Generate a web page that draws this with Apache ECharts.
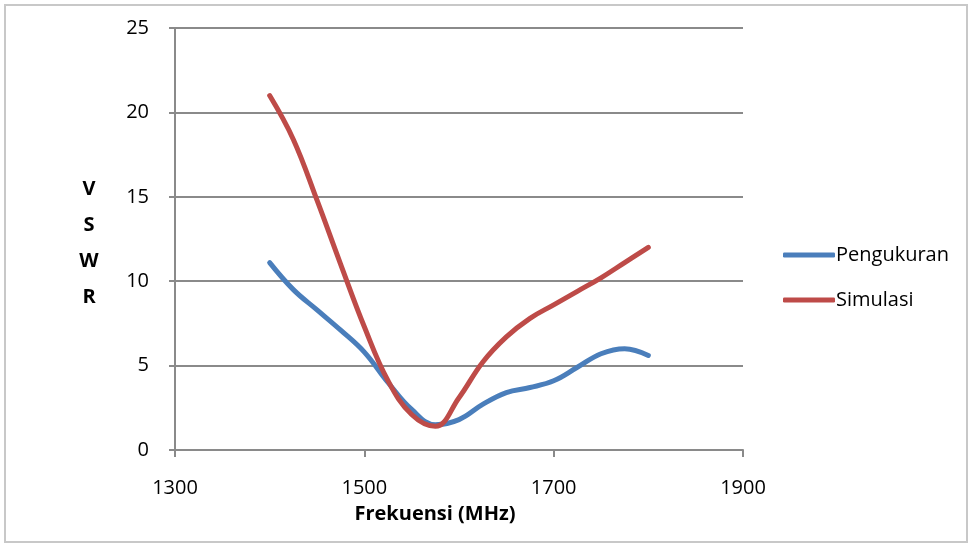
<!DOCTYPE html>
<html>
<head>
<meta charset="utf-8">
<script src="https://cdn.jsdelivr.net/npm/echarts@6/dist/echarts.min.js"></script>
<style>
  html, body { margin: 0; padding: 0; background: #fff; }
  #chart { width: 972px; height: 547px; }
</style>
</head>
<body>
<div id="chart"></div>
<script>
// Frequency (MHz) and VSWR values
const freq = [1400, 1425, 1450, 1475, 1500, 1525, 1550, 1575, 1600, 1625, 1650, 1675, 1700, 1725, 1750, 1775, 1800]
const pengukuran = [11.1, 9.5, 8.3, 7.1, 5.8, 4.0, 2.4, 1.5, 1.8, 2.7, 3.4, 3.7, 4.1, 4.9, 5.7, 6.0, 5.6]
const simulasi = [21.0, 18.4, 14.8, 11.0, 7.3, 4.1, 2.1, 1.4, 3.1, 5.2, 6.7, 7.8, 8.6, 9.4, 10.2, 11.1, 12.0]
const yTicks = [0, 5, 10, 15, 20, 25]
const xTicks = [1300, 1500, 1700, 1900]

const font = '"Open Sans", Lato, sans-serif'
const gray = '#8a8a8a'

const chart = echarts.init(document.getElementById('chart'))

const option = {
  backgroundColor: '#fff',
  animation: false,
  grid: { left: 175, right: 229, top: 28, bottom: 97 },
  xAxis: {
    type: 'value',
    min: xTicks[0],
    max: xTicks[xTicks.length - 1],
    interval: 200,
    axisLine: { show: true, lineStyle: { color: gray, width: 2 } },
    axisTick: { show: true, length: 7, lineStyle: { color: gray, width: 2 } },
    axisLabel: { color: '#000', fontSize: 20, fontFamily: font, margin: 28, formatter: v => String(v) },
    splitLine: { show: false }
  },
  yAxis: {
    type: 'value',
    min: yTicks[0],
    max: yTicks[yTicks.length - 1],
    interval: 5,
    axisLine: { show: true, lineStyle: { color: gray, width: 2 } },
    axisTick: { show: true, length: 6, lineStyle: { color: gray, width: 2 } },
    axisLabel: { color: '#000', fontSize: 20, fontFamily: font, margin: 26 },
    splitLine: { show: true, lineStyle: { color: gray, width: 2 } }
  },
  legend: {
    orient: 'vertical',
    left: 778,
    top: 238,
    itemWidth: 52,
    itemHeight: 5,
    itemGap: 21,
    icon: 'roundRect',
    textStyle: { color: '#000', fontSize: 20, fontFamily: font, lineHeight: 24, padding: [0, 0, 0, -4] },
    data: ['Pengukuran', 'Simulasi']
  },
  graphic: [
    {
      type: 'rect',
      shape: { x: 5, y: 5, width: 962, height: 537 },
      style: { fill: 'none', stroke: '#c8c8c8', lineWidth: 2 },
      silent: true
    },
    {
      type: 'text',
      x: 435,
      y: 514,
      style: {
        text: 'Frekuensi (MHz)',
        font: 'bold 20px ' + font,
        fill: '#000',
        align: 'center',
        verticalAlign: 'middle'
      }
    },
    {
      type: 'text',
      x: 89,
      y: 171,
      style: {
        text: 'V\nS\nW\nR',
        font: 'bold 20px ' + font,
        fill: '#000',
        align: 'center',
        lineHeight: 36
      }
    }
  ],
  series: [
    {
      name: 'Pengukuran',
      type: 'line',
      smooth: 0.4,
      showSymbol: false,
      color: '#4A7EBB',
      lineStyle: { width: 5, cap: 'round' },
      data: freq.map((f, i) => [f, pengukuran[i]])
    },
    {
      name: 'Simulasi',
      type: 'line',
      smooth: 0.4,
      showSymbol: false,
      color: '#BE4B48',
      lineStyle: { width: 5, cap: 'round' },
      data: freq.map((f, i) => [f, simulasi[i]])
    }
  ]
}

chart.setOption(option)
</script>
</body>
</html>
